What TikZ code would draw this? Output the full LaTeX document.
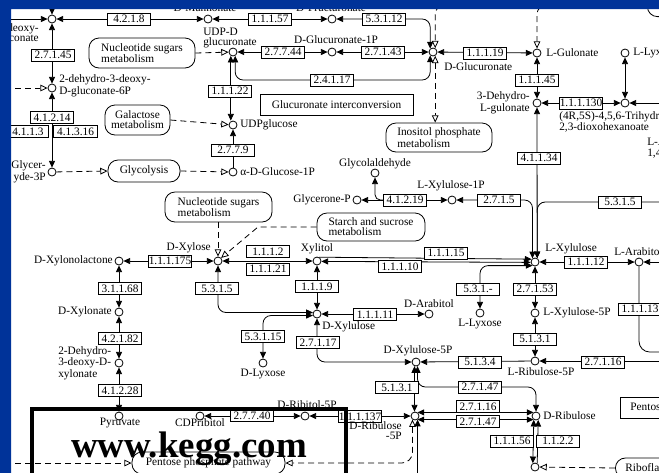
\documentclass[tikz,border=0pt]{standalone}
\usepackage{fontspec}
\setmainfont{Liberation Serif}
\usetikzlibrary{arrows.meta}
\definecolor{keggblue}{RGB}{0,51,153}
\newcommand\keggfont{\fontsize{8.5}{7.6}\selectfont}
\tikzset{
  ktip/.tip={Triangle[length=5pt,width=4.5pt]},
  khol/.tip={Triangle[fill=white,length=5.5pt,width=5pt]},
  cmp/.style={circle,draw,fill=white,inner sep=0pt,minimum size=6pt,line width=0.6pt},
  enz/.style={draw,fill=white,inner sep=0pt,minimum width=32.5pt,minimum height=9pt,font=\keggfont,line width=0.6pt},
  lab/.style={font=\keggfont,inner sep=0pt},
  mapb/.style={draw,fill=white,rounded corners=7.5pt,font=\keggfont,align=left,inner sep=0pt,line width=0.6pt},
  plainb/.style={draw,fill=white,font=\keggfont,inner sep=0pt,line width=0.6pt},
  rxn/.style={line width=0.6pt},
  rboth/.style={rxn,ktip-ktip},
  rfwd/.style={rxn,-ktip},
  dsh/.style={line width=0.6pt,dash pattern=on 4.5pt off 3pt},
  dfwd/.style={dsh,-khol},
  dboth/.style={dsh,khol-khol},
}
\begin{document}
\begin{tikzpicture}[x=0.75pt,y=-0.75pt]
\useasboundingbox (0,0) rectangle (659,472);
\clip (0,0) rectangle (659,472);
\fill[white] (0,0) rectangle (659,472);

% ---------- compounds ----------
\node[cmp] (n1) at (52,19) {};
\node[cmp] (dman) at (208,19) {};
\node[cmp] (dfru) at (332,19) {};
\node[cmp] (udpd) at (233,52) {};
\node[cmp] (dg1p) at (332,52) {};
\node[cmp] (dglc) at (433,52) {};
\node[cmp] (lgul) at (537,53) {};
\node[cmp] (llyx) at (625,53) {};
\node[cmp] (kdg6p) at (52,88) {};
\node[cmp] (udpg) at (233,125) {};
\node[cmp] (dhlg) at (537,103) {};
\node[cmp] (thd) at (625,103) {};
\node[cmp] (g3p) at (52,172) {};
\node[cmp] (ag1p) at (233,172) {};
\node[cmp] (glyald) at (375,173) {};
\node[cmp] (glyp) at (357,200) {};
\node[cmp] (lx1p) at (452,200) {};
\node[cmp] (dxyl) at (218,261) {};
\node[cmp] (dxlac) at (119,261) {};
\node[cmp] (xylt) at (317,261) {};
\node[cmp] (lxylu) at (535,262) {};
\node[cmp] (larab) at (639,262) {};
\node[cmp] (dxyla) at (119,312) {};
\node[cmp] (dxylu) at (317,314) {};
\node[cmp] (darab) at (429,314) {};
\node[cmp] (llyxo) at (480,313) {};
\node[cmp] (lx5p) at (535,313) {};
\node[cmp] (dlyxo) at (263,363) {};
\node[cmp] (dx5p) at (416,362) {};
\node[cmp] (lr5p) at (535,361) {};
\node[cmp] (kdx) at (119,363) {};
\node[cmp] (pyr) at (119,416) {};
\node[cmp] (cdpr) at (200,416) {};
\node[cmp] (dr5p) at (305,416) {};
\node[cmp] (dru5p) at (415,416) {};
\node[cmp] (drib) at (536,416) {};
\node[cmp] (ribt) at (535,467) {};

% ---------- map boxes ----------
\node[mapb,minimum width=79.5pt,minimum height=22.5pt] (ns1) at (142,53) {Nucleotide sugars\\metabolism};
\node[mapb,align=center,minimum width=48.75pt,minimum height=22.5pt] (gal) at (137.5,120) {Galactose\\metabolism};
\node[mapb,minimum width=54pt,minimum height=16.5pt] (glyc) at (144,171) {Glycolysis};
\node[mapb,minimum width=80.25pt,minimum height=22.5pt] (ns2) at (218.5,207) {Nucleotide sugars\\metabolism};
\node[mapb,minimum width=81pt,minimum height=21pt] (starch) at (371,227) {Starch and sucrose\\metabolism};
\node[mapb,minimum width=79.5pt,minimum height=21.75pt] (inos) at (439,137.5) {Inositol phosphate\\metabolism};
\node[plainb,minimum width=114.75pt,minimum height=15.75pt] (gic) at (336.5,104.5) {Glucuronate interconversion};
\node[mapb,minimum width=114.75pt,minimum height=16.5pt] (ppp) at (208.5,463) {Pentose phosphate pathway};
\node[mapb,anchor=west,inner xsep=7.5pt,minimum height=15pt] (ribo) at (615,468) {Riboflavin metabolism};
\node[plainb,anchor=west,inner xsep=7.5pt,minimum height=15.75pt] (pgi) at (620,407.5) {Pentose and glucuronate interconversions};
\node[mapb,anchor=south west,minimum width=60pt,minimum height=30pt] (topm) at (647,17) {};

% ---------- helper coordinates ----------
\coordinate (offL1) at (-5,19);
\coordinate (offT0) at (52,-5);
\coordinate (offL2) at (-5,88);
\coordinate (offL3) at (-5,463);
\coordinate (offT1) at (480,5);
\coordinate (offT2) at (580,5);
\coordinate (offR1) at (670,103);
\coordinate (offR2) at (670,202);
\coordinate (offR3) at (670,262);
\coordinate (offR4) at (670,352);
\coordinate (offR5) at (670,361);
\coordinate (offB1) at (0,480);
\coordinate (w1) at (330,80);
\coordinate (w2) at (500,387);
\coordinate (sw1) at (258,227);
\coordinate (br1) at (390,200);

% ---------- connectors ----------
\draw[rfwd] (offL1) -- (n1);
\draw[rfwd] (offT0) -- (n1);
\draw[rboth] (n1) -- (dman);
\draw[rboth] (dman) -- (dfru);
\draw[rboth,rounded corners=6pt] (dfru.east) -| (dglc.130);
\draw[dfwd] (ns1.east) -- (udpd);
\draw[rboth] (udpd) -- (dg1p);
\draw[rboth] (dg1p) -- (dglc);
\draw[rboth,rounded corners=6pt] (udpd.-60) |- (w1) -| (dglc.-130);
\draw[rboth] (udpd.-120) -- (udpd.-120 |- udpg.north);
\draw[dfwd] (gal.east) -- (udpg);
\draw[rfwd] (ag1p) -- (udpg);
\draw[dfwd] (g3p) -- (glyc.west);
\draw[dfwd] (glyc.east) -- (ag1p);
\draw[rboth] (n1) -- (kdg6p);
\draw[dfwd] (offL2) -- (kdg6p);
\draw[rboth] (kdg6p) -- (g3p);

\draw[dfwd,rounded corners=7pt] (offT1) -| (dglc.60);
\draw[dboth] (dglc.-60) -- (dglc.-60 |- inos.north);
\draw[rboth] (dglc) -- (lgul);
\draw[dfwd,rounded corners=7pt] (offT2) -| (lgul.north);
\draw[rboth] (lgul) -- (dhlg);
\draw[rboth] (dhlg) -- (thd);
\draw[rboth] (llyx) -- (thd);
\draw[rfwd] (offR1) -- (thd);
\draw[rboth] (dhlg.south) -- (lxylu.60);

\draw[rboth] (glyp) -- (lx1p);
\draw[rfwd,rounded corners=4pt] (br1) -| (glyald.south);
\draw[rboth,rounded corners=6pt] (lx1p.east) -| (lxylu.125);
\draw[rfwd,rounded corners=6pt] (offR2) -| (lxylu.60);

\draw[dfwd] (ns2.south -| dxyl) -- (dxyl);
\draw[dfwd] (starch.west) -- (sw1) -- (dxyl.45);
\draw[rboth] (dxlac) -- (dxyl);
\draw[rboth] (dxyl) -- (xylt);
\draw[rboth] (dxlac) -- (dxyla);
\draw[rboth] (dxyla) -- (kdx);
\draw[rboth] (kdx) -- (pyr);
\draw[rboth,rounded corners=6pt] (dxyl.south) |- (dxylu.160);
\draw[rboth,rounded corners=6pt] (dlyxo.north) |- (dxylu.200);
\draw[rboth] (xylt) -- (dxylu);
\draw[rboth] (dxylu) -- (darab);
\draw[rboth,rounded corners=6pt] (dxylu.south) |- (dx5p.west);

\draw[rfwd] (xylt.60) -- (lxylu.140);
\draw[rboth] (xylt.-5) -- (lxylu.-175);
\draw[rboth,rounded corners=6pt] (llyxo.north) |- (lxylu.-125);
\draw[rboth] (lxylu) -- (larab);
\draw[rfwd] (offR3) -- (larab);
\draw[rxn,rounded corners=8pt] (larab.south) |- (offR4);
\draw[rboth] (lxylu) -- (lx5p);
\draw[rboth] (lx5p) -- (lr5p);
\draw[rfwd] (lr5p) -- (dx5p);
\draw[rfwd] (offR5) -- (lr5p);
\draw[rboth] (dx5p.-110) -- (dx5p.-110 |- dru5p.north);
\draw[rboth,rounded corners=6pt] (dx5p.-70) |- (w2) -| (drib.north);
\draw[rboth] (dru5p.55) -- (drib.125);
\draw[rboth] (dru5p.-55) -- (drib.-125);
\draw[rboth] (dr5p) -- (dru5p);
\draw[rboth] (cdpr) -- (dr5p);
\draw[dboth,rounded corners=8pt] (dru5p.-125) |- (ppp.east);
\draw[rfwd] (dru5p.-55 |- offB1) -- (dru5p.-55);
\draw[dfwd] (offL3) -- (ppp.west);
\draw[rboth] (ribt.120) -- (drib.-120);
\draw[rfwd] (ribt.60) -- (drib.-60);
\draw[dfwd] (ribo.west) -- (ribt);

% ---------- enzyme boxes ----------
\node[enz] (e4218) at (129,19) {4.2.1.8};
\node[enz] (e11157) at (270,19) {1.1.1.57};
\node[enz] (e53112) at (384,19) {5.3.1.12};
\node[enz] (e27744) at (283,52) {2.7.7.44};
\node[enz] (e27143) at (383,52) {2.7.1.43};
\node[enz] (e24117) at (332,80) {2.4.1.17};
\node[enz] (e11119) at (485,53) {1.1.1.19};
\node[enz] (e27145) at (53,55) {2.7.1.45};
\node[enz] (e11122) at (230,91) {1.1.1.22};
\node[enz] (e11145) at (537,80) {1.1.1.45};
\node[enz] (e111130) at (581,103) {1.1.1.130};
\node[enz] (e41214) at (52,117.5) {4.1.2.14};
\node[enz,minimum width=30pt] (e4113) at (28,131.5) {4.1.1.3};
\node[enz] (e41316) at (75.5,131.5) {4.1.3.16};
\node[enz] (e2779) at (233,150) {2.7.7.9};
\node[enz] (e41134) at (539,158) {4.1.1.34};
\node[enz] (e41219) at (405,200) {4.1.2.19};
\node[enz] (e2715) at (499,200) {2.7.1.5};
\node[enz] (e5315b) at (620,202) {5.3.1.5};
\node[enz] (e111175) at (170,261) {1.1.1.175};
\node[enz] (e1112) at (268,251.5) {1.1.1.2};
\node[enz] (e11121) at (268,269) {1.1.1.21};
\node[enz] (e11115) at (446,253) {1.1.1.15};
\node[enz] (e11110) at (400,266.5) {1.1.1.10};
\node[enz] (e11112) at (586,262) {1.1.1.12};
\node[enz] (e31168) at (120,288.5) {3.1.1.68};
\node[enz] (e5315a) at (217,288.5) {5.3.1.5};
\node[enz] (e1119) at (317,286.5) {1.1.1.9};
\node[enz] (e531x) at (478,289) {5.3.1.-};
\node[enz] (e27153) at (535,289) {2.7.1.53};
\node[enz] (e11111) at (375,314.5) {1.1.1.11};
\node[enz] (e11113) at (640,309) {1.1.1.13};
\node[enz] (e53115) at (263,336.5) {5.3.1.15};
\node[enz] (e27117) at (318,342.5) {2.7.1.17};
\node[enz] (e42182) at (120,338.5) {4.2.1.82};
\node[enz] (e5131a) at (535,339) {5.1.3.1};
\node[enz] (e5134) at (480,362) {5.1.3.4};
\node[enz] (e27116a) at (603,362) {2.7.1.16};
\node[enz] (e5131b) at (397,387.5) {5.1.3.1};
\node[enz] (e27147a) at (480,387) {2.7.1.47};
\node[enz] (e41228) at (120,390.5) {4.1.2.28};
\node[enz] (e27116b) at (478,406.5) {2.7.1.16};
\node[enz] (e27147b) at (478,421.5) {2.7.1.47};
\node[enz] (e27740) at (252,415.5) {2.7.7.40};
\node[enz] (e111137) at (360,416.5) {1.1.1.137};
\node[enz] (e11156) at (512,441) {1.1.1.56};
\node[enz] (e1122) at (558,441) {1.1.2.2};

% ---------- compound labels ----------
\node[lab,anchor=east,align=right] (lKdgA) at (39,33) {-deoxy-\\conate};
\node[lab] (lDman) at (205,7.5) {D-Mannonate};
\node[lab] (lDfru) at (331,7.5) {D-Fructuronate};
\node[lab,anchor=west,align=left] (lUdpd) at (203,38) {UDP-D\\glucuronate};
\node[lab] (lDg1p) at (336,40) {D-Glucuronate-1P};
\node[lab,anchor=west] (lDglc) at (444,67) {D-Glucuronate};
\node[lab,anchor=west] (lLgul) at (546,53) {L-Gulonate};
\node[lab,anchor=west] (lLlyx) at (633,53) {L-Lyxonate};
\node[lab,anchor=east,align=right] (lDhlg) at (530,103) {3-Dehydro-\\L-gulonate};
\node[lab,anchor=west,align=left] (lThd) at (559,122) {(4R,5S)-4,5,6-Trihydroxy-\\2,3-dioxohexanoate};
\node[lab,anchor=west,align=left] (lKdg) at (59,86) {2-dehydro-3-deoxy-\\D-gluconate-6P};
\node[lab,anchor=west] (lUdpg) at (240,125) {UDPglucose};
\node[lab,anchor=west] (lAg1p) at (240,172) {α-D-Glucose-1P};
\node[lab,anchor=east,align=right] (lG3p) at (46,172) {Glycer-\\yde-3P};
\node[lab] (lGlyald) at (375,164) {Glycolaldehyde};
\node[lab,anchor=east] (lGlyp) at (351,200) {Glycerone-P};
\node[lab] (lLx1p) at (451,186) {L-Xylulose-1P};
\node[lab,anchor=west,align=left] (lLara) at (647,148) {L-Arabinono-\\1,4-lactone};
\node[lab,anchor=east] (lDxyl) at (211,248) {D-Xylose};
\node[lab,anchor=east] (lDxlac) at (113,261) {D-Xylonolactone};
\node[lab] (lXylt) at (317,249) {Xylitol};
\node[lab,anchor=west] (lLxylu) at (545,249) {L-Xylulose};
\node[lab,anchor=west] (lLarab) at (614,252) {L-Arabitol};
\node[lab,anchor=east] (lDxyla) at (112,312) {D-Xylonate};
\node[lab,anchor=west] (lDxylu) at (322,327) {D-Xylulose};
\node[lab] (lDarab) at (429,304) {D-Arabitol};
\node[lab] (lLlyxo) at (480,324) {L-Lyxose};
\node[lab,anchor=west] (lLx5p) at (543,313) {L-Xylulose-5P};
\node[lab] (lDlyxo) at (263,374) {D-Lyxose};
\node[lab] (lDx5p) at (418,351) {D-Xylulose-5P};
\node[lab] (lLr5p) at (541,372) {L-Ribulose-5P};
\node[lab,anchor=west,align=left] (lKdx) at (58,363) {2-Dehydro-\\3-deoxy-D-\\xylonate};
\node[lab] (lPyr) at (120,423) {Pyruvate};
\node[lab] (lCdpr) at (200,423) {CDPribitol};
\node[lab] (lDr5p) at (307,405) {D-Ribitol-5P};
\node[lab,anchor=east,align=right] (lDru5p) at (402,431) {D-Ribulose\\-5P};
\node[lab,anchor=west] (lDrib) at (543,416) {D-Ribulose};

% ---------- frame & watermark ----------
\draw[line width=2.6pt] (32,409) rectangle (346,500);
\node[anchor=base,inner sep=0pt,font=\fontsize{27.7}{30}\selectfont\bfseries] (kegg) at (189,457) {www.kegg.com};
\fill[keggblue,even odd rule] (-5,-5) rectangle (670,480) (11,9) rectangle (680,490);
\end{tikzpicture}
\end{document}
